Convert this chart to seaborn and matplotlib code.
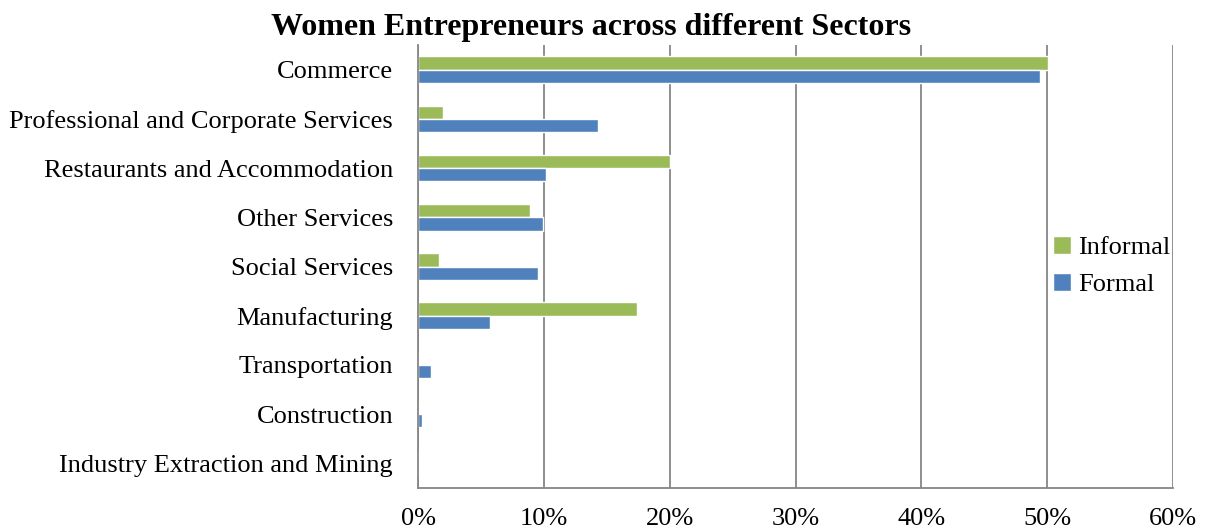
import matplotlib
matplotlib.use("Agg")
import matplotlib.pyplot as plt
import seaborn as sns
import pandas as pd
import numpy as np
from matplotlib.ticker import FuncFormatter, FixedLocator

sectors = ["Commerce", "Professional and Corporate Services", "Restaurants and Accommodation",
           "Other Services", "Social Services", "Manufacturing", "Transportation",
           "Construction", "Industry Extraction and Mining"]
informal = [50.1, 2.0, 20.0, 8.9, 1.7, 17.4, 0.1, 0.0, 0.0]
formal = [49.4, 14.3, 10.2, 9.9, 9.5, 5.7, 1.0, 0.35, 0.0]
series = ["Informal", "Formal"]
colors = ["#9BBB59", "#4F81BD"]
xticks = [0, 10, 20, 30, 40, 50, 60]

df = pd.DataFrame({
    "Sector": sectors * 2,
    "Type": ["Informal"] * len(sectors) + ["Formal"] * len(sectors),
    "Value": informal + formal,
})

sns.set_style("white")
plt.rcParams["font.family"] = ["Liberation Serif", "DejaVu Serif"]
plt.rcParams["text.color"] = "black"
plt.rcParams["xtick.color"] = "black"
plt.rcParams["ytick.color"] = "black"

fig = plt.figure(figsize=(12.05, 5.29), dpi=100)
ax = fig.add_axes([418/1205, 1 - 488/529, (1173-418)/1205, (488-45)/529])

sns.barplot(data=df, y="Sector", x="Value", hue="Type", hue_order=series,
            order=sectors, palette=colors, orient="h", width=0.54,
            saturation=1, ax=ax, legend=True)

ax.set_xlim(0, 60)
ax.set_ylim(len(sectors) - 0.5, -0.5)
ax.xaxis.set_major_locator(FixedLocator(xticks))
ax.xaxis.set_major_formatter(FuncFormatter(lambda v, p: f"{int(v)}%"))
ax.grid(axis="x", color="#868686", linewidth=1.3)
ax.grid(axis="y", visible=False)
ax.set_axisbelow(True)
ax.set_xlabel("")
ax.set_ylabel("")
for s in ["top", "right"]:
    ax.spines[s].set_visible(False)
for s in ["left", "bottom"]:
    ax.spines[s].set_color("#868686")
    ax.spines[s].set_linewidth(1.3)

ax.tick_params(axis="x", labelsize=19, length=6, color="#868686", labelcolor="black",
               width=1.3, pad=8.5, direction="out")
ax.tick_params(axis="y", labelsize=19, length=0, pad=18, labelcolor="black")
ax.set_yticks(np.arange(len(sectors)))
ax.set_yticklabels(sectors)
ax.set_yticks(np.arange(len(sectors) + 1) - 0.5, minor=True)
ax.tick_params(axis="y", which="minor", length=6, color="#868686", width=1.3, direction="out")

fig.suptitle("Women Entrepreneurs across different Sectors", fontsize=23,
             fontweight="bold", x=591/1205, y=1 - 13/529, va="top", color="black")

leg = ax.legend(loc="center left", bbox_to_anchor=(1053/1205, 1 - 266/529),
                bbox_transform=fig.transFigure, frameon=False, fontsize=19,
                handlelength=0.7, handleheight=0.7, handletextpad=0.25,
                labelspacing=0.5, borderaxespad=0, borderpad=0)

fig.savefig("out.png", dpi=100)
